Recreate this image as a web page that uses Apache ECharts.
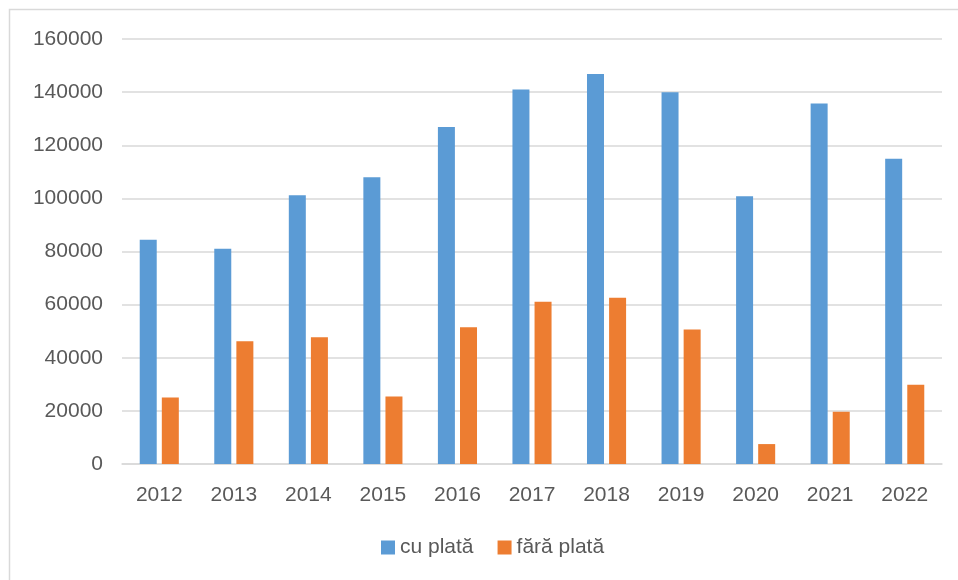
<!DOCTYPE html>
<html>
<head>
<meta charset="utf-8">
<script src="https://cdn.jsdelivr.net/npm/echarts@6/dist/echarts.min.js"></script>
<style>html,body{margin:0;padding:0;background:#fff;}#c{width:958px;height:580px;}</style>
</head>
<body>
<div id="c"></div>
<script>
var categories = ['2012','2013','2014','2015','2016','2017','2018','2019','2020','2021','2022'];
var cuPlata = [84400, 81000, 101200, 108000, 126900, 141000, 146800, 140000, 100800, 135700, 114900];
var faraPlata = [25000, 46200, 47700, 25400, 51500, 61100, 62600, 50600, 7500, 19700, 29800];
var seriesNames = ['cu plată', 'fără plată'];

var chart = echarts.init(document.getElementById('c'), null, {renderer: 'canvas'});
var font = 'Liberation Sans';
chart.setOption({
  animation: false,
  backgroundColor: '#ffffff',
  graphic: [{
    type: 'rect',
    shape: {x: 9.5, y: 9.5, width: 960, height: 590},
    style: {fill: 'none', stroke: '#d9d9d9', lineWidth: 1.5},
    silent: true
  }],
  grid: {left: 122, right: 16, top: 39, bottom: 116},
  legend: {
    data: seriesNames,
    bottom: 17,
    left: 376,
    itemWidth: 14,
    itemHeight: 14,
    itemGap: 24,
    icon: 'rect',
    textStyle: {fontFamily: font, fontSize: 21, color: '#595959', padding: [0, 0, 0, 0]}
  },
  xAxis: {
    type: 'category',
    data: categories,
    axisLine: {show: true, lineStyle: {color: '#d9d9d9', width: 1.5}},
    axisTick: {show: false},
    axisLabel: {fontFamily: font, fontSize: 21, color: '#595959', margin: 21}
  },
  yAxis: {
    type: 'value',
    min: 0,
    max: 160000,
    interval: 20000,
    axisLine: {show: false},
    axisTick: {show: false},
    splitLine: {lineStyle: {color: '#d9d9d9', width: 1.5}},
    axisLabel: {fontFamily: font, fontSize: 21, color: '#595959', margin: 19,
      formatter: function (v) { return String(v); }}
  },
  series: [
    {name: seriesNames[0], type: 'bar', data: cuPlata, barWidth: 17, barGap: '30%',
     itemStyle: {color: '#5B9BD5'}},
    {name: seriesNames[1], type: 'bar', data: faraPlata, barWidth: 17, barGap: '30%',
     itemStyle: {color: '#ED7D31'}}
  ]
});
</script>
</body>
</html>
